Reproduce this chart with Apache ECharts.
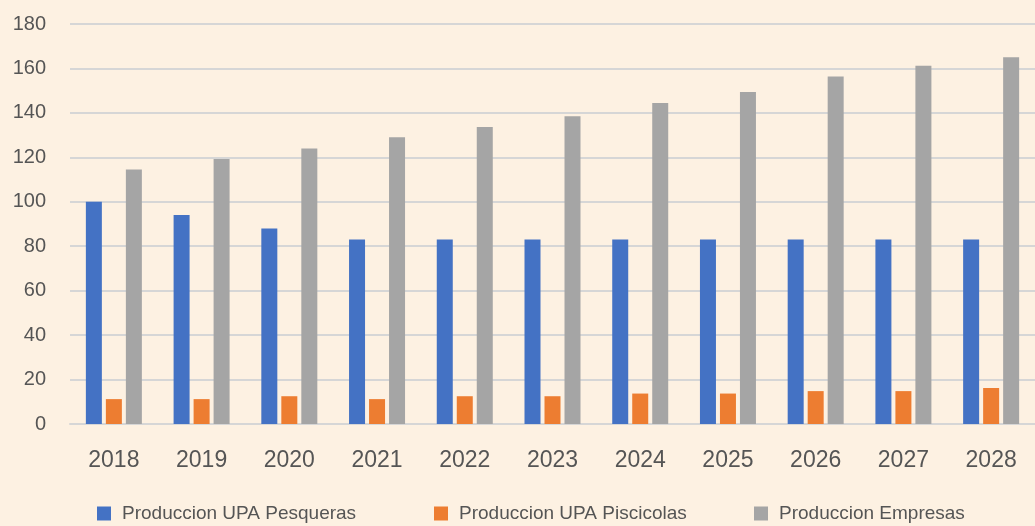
<!DOCTYPE html>
<html>
<head>
<meta charset="utf-8">
<script src="https://cdn.jsdelivr.net/npm/echarts@6/dist/echarts.min.js"></script>
<style>
  html, body { margin: 0; padding: 0; background: #FDF1E2; }
  #chart { width: 1035px; height: 526px; }
</style>
</head>
<body>
<div id="chart"></div>
<script>
// data
var years = ['2018', '2019', '2020', '2021', '2022', '2023', '2024', '2025', '2026', '2027', '2028'];
var pesqueras = [100, 94, 88, 83, 83, 83, 83, 83, 83, 83, 83];
var piscicolas = [11.2, 11.2, 12.5, 11.2, 12.5, 12.5, 13.7, 13.7, 14.8, 14.8, 16.2];
var empresas = [114.5, 119.3, 124, 129, 133.7, 138.5, 144.5, 149.4, 156.4, 161.2, 165];
var seriesNames = ['Produccion UPA Pesqueras', 'Produccion UPA Piscicolas', 'Produccion Empresas'];

var chart = echarts.init(document.getElementById('chart'));

function legendAt(name, left) {
    return {
        data: [name],
        left: left,
        top: 504,
        padding: 0,
        itemWidth: 14,
        itemHeight: 14,
        icon: 'rect',
        textStyle: { fontFamily: 'Liberation Sans', fontSize: 19, color: '#555555', padding: [0, 0, 0, 6] }
    };
}

var option = {
    backgroundColor: '#FDF1E2',
    animation: false,
    legend: [
        legendAt(seriesNames[0], 97),
        legendAt(seriesNames[1], 434),
        legendAt(seriesNames[2], 754)
    ],
    grid: { left: 70, top: 24, bottom: 102, right: -14 },
    xAxis: {
        type: 'category',
        data: years,
        axisTick: { show: false },
        axisLine: { lineStyle: { color: '#D6D6D6', width: 2 } },
        axisLabel: { fontFamily: 'Liberation Sans', fontSize: 23, color: '#555555', margin: 25 }
    },
    yAxis: {
        type: 'value',
        min: 0,
        max: 180,
        interval: 20,
        axisLine: { show: false },
        axisTick: { show: false },
        splitLine: { lineStyle: { color: '#D6D6D6', width: 2 } },
        axisLabel: { fontFamily: 'Liberation Sans', fontSize: 20, color: '#555555', margin: 24 }
    },
    series: [
        { name: seriesNames[0], type: 'bar', data: pesqueras, barWidth: 16, barGap: '25%', itemStyle: { color: '#4472C4' } },
        { name: seriesNames[1], type: 'bar', data: piscicolas, barWidth: 16, barGap: '25%', itemStyle: { color: '#ED7D31' } },
        { name: seriesNames[2], type: 'bar', data: empresas, barWidth: 16, barGap: '25%', itemStyle: { color: '#A5A5A5' } }
    ]
};
chart.setOption(option);
</script>
</body>
</html>
